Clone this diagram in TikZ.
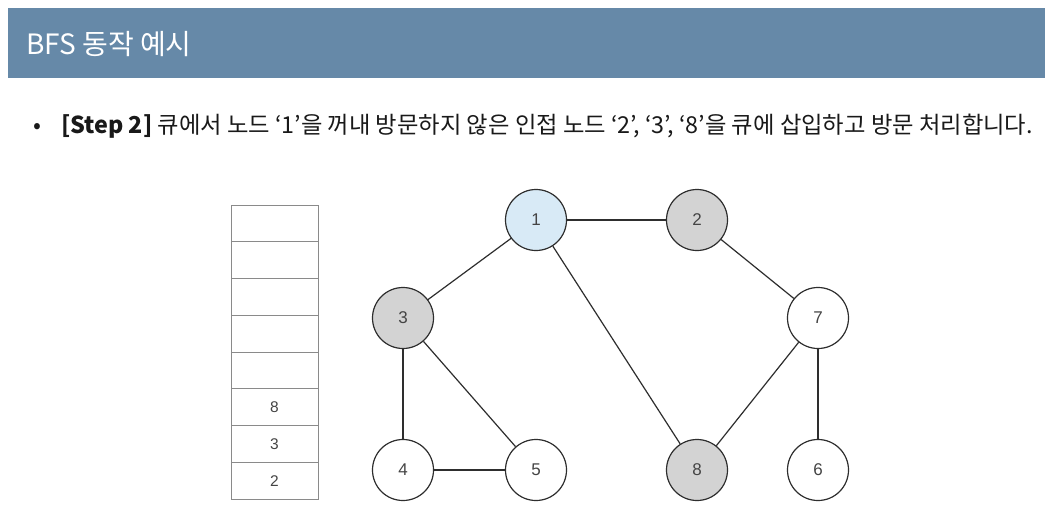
\documentclass[tikz,border=0pt]{standalone}
\usepackage{fontspec}
\setmainfont{Liberation Sans}
\newfontfamily\kr{Noto Sans CJK KR}
\definecolor{hdr}{HTML}{6689A8}
\definecolor{visited}{HTML}{D3D3D3}
\definecolor{current}{HTML}{D8EAF6}
\definecolor{edgec}{HTML}{2E2E2E}
\definecolor{qline}{HTML}{8A8A8A}
\definecolor{numc}{HTML}{444444}
\tikzset{
  gnode/.style={circle, draw=edgec, line width=1.2pt, minimum size=61pt, inner sep=0pt, font=\fontsize{17}{17}\selectfont, text=numc},
  gedge/.style={draw=edgec, line width=1.2pt},
  qcell/.style={draw=qline, line width=0.8pt, minimum width=87pt, minimum height=36.75pt, inner sep=0pt, font=\fontsize{15.5}{15.5}\selectfont, text=numc}
}
\begin{document}
\begin{tikzpicture}[x=1pt,y=-1pt]
\useasboundingbox (0,0) rectangle (1045,515);
\fill[white] (0,0) rectangle (1045,515);
% header
\fill[hdr] (8,8) rectangle (1045,78);
\node[anchor=west, text=white, inner sep=0pt, font=\kr\fontsize{28}{28}\selectfont] (title) at (26,44) {BFS 동작 예시};
% bullet line
\node[anchor=west, inner sep=0pt, font=\kr\fontsize{23.3}{23.3}\selectfont, text=black!90] (bullet) at (33,126) {•\hspace{20pt}\textbf{[Step 2]} 큐에서 노드 ‘1’을 꺼내 방문하지 않은 인접 노드 ‘2’, ‘3’, ‘8’을 큐에 삽입하고 방문 처리합니다.};
% queue
\foreach \i/\t in {0/,1/,2/,3/,4/,5/8,6/3,7/2} {
  \node[qcell] (q\i) at (274.5, {205+36.75*\i+18.375}) {\t};
}
% graph nodes
\node[gnode, fill=current] (n1) at (536,220) {1};
\node[gnode, fill=visited] (n2) at (697,220) {2};
\node[gnode, fill=visited] (n3) at (403,318) {3};
\node[gnode, fill=white] (n7) at (818,318) {7};
\node[gnode, fill=white] (n4) at (403,470) {4};
\node[gnode, fill=white] (n5) at (536,470) {5};
\node[gnode, fill=visited] (n8) at (697,470) {8};
\node[gnode, fill=white] (n6) at (818,470) {6};
% edges
\draw[gedge] (n1) -- (n2);
\draw[gedge] (n1) -- (n3);
\draw[gedge] (n1) -- (n8);
\draw[gedge] (n2) -- (n7);
\draw[gedge] (n3) -- (n4);
\draw[gedge] (n3) -- (n5);
\draw[gedge] (n4) -- (n5);
\draw[gedge] (n7) -- (n8);
\draw[gedge] (n7) -- (n6);
\end{tikzpicture}
\end{document}
